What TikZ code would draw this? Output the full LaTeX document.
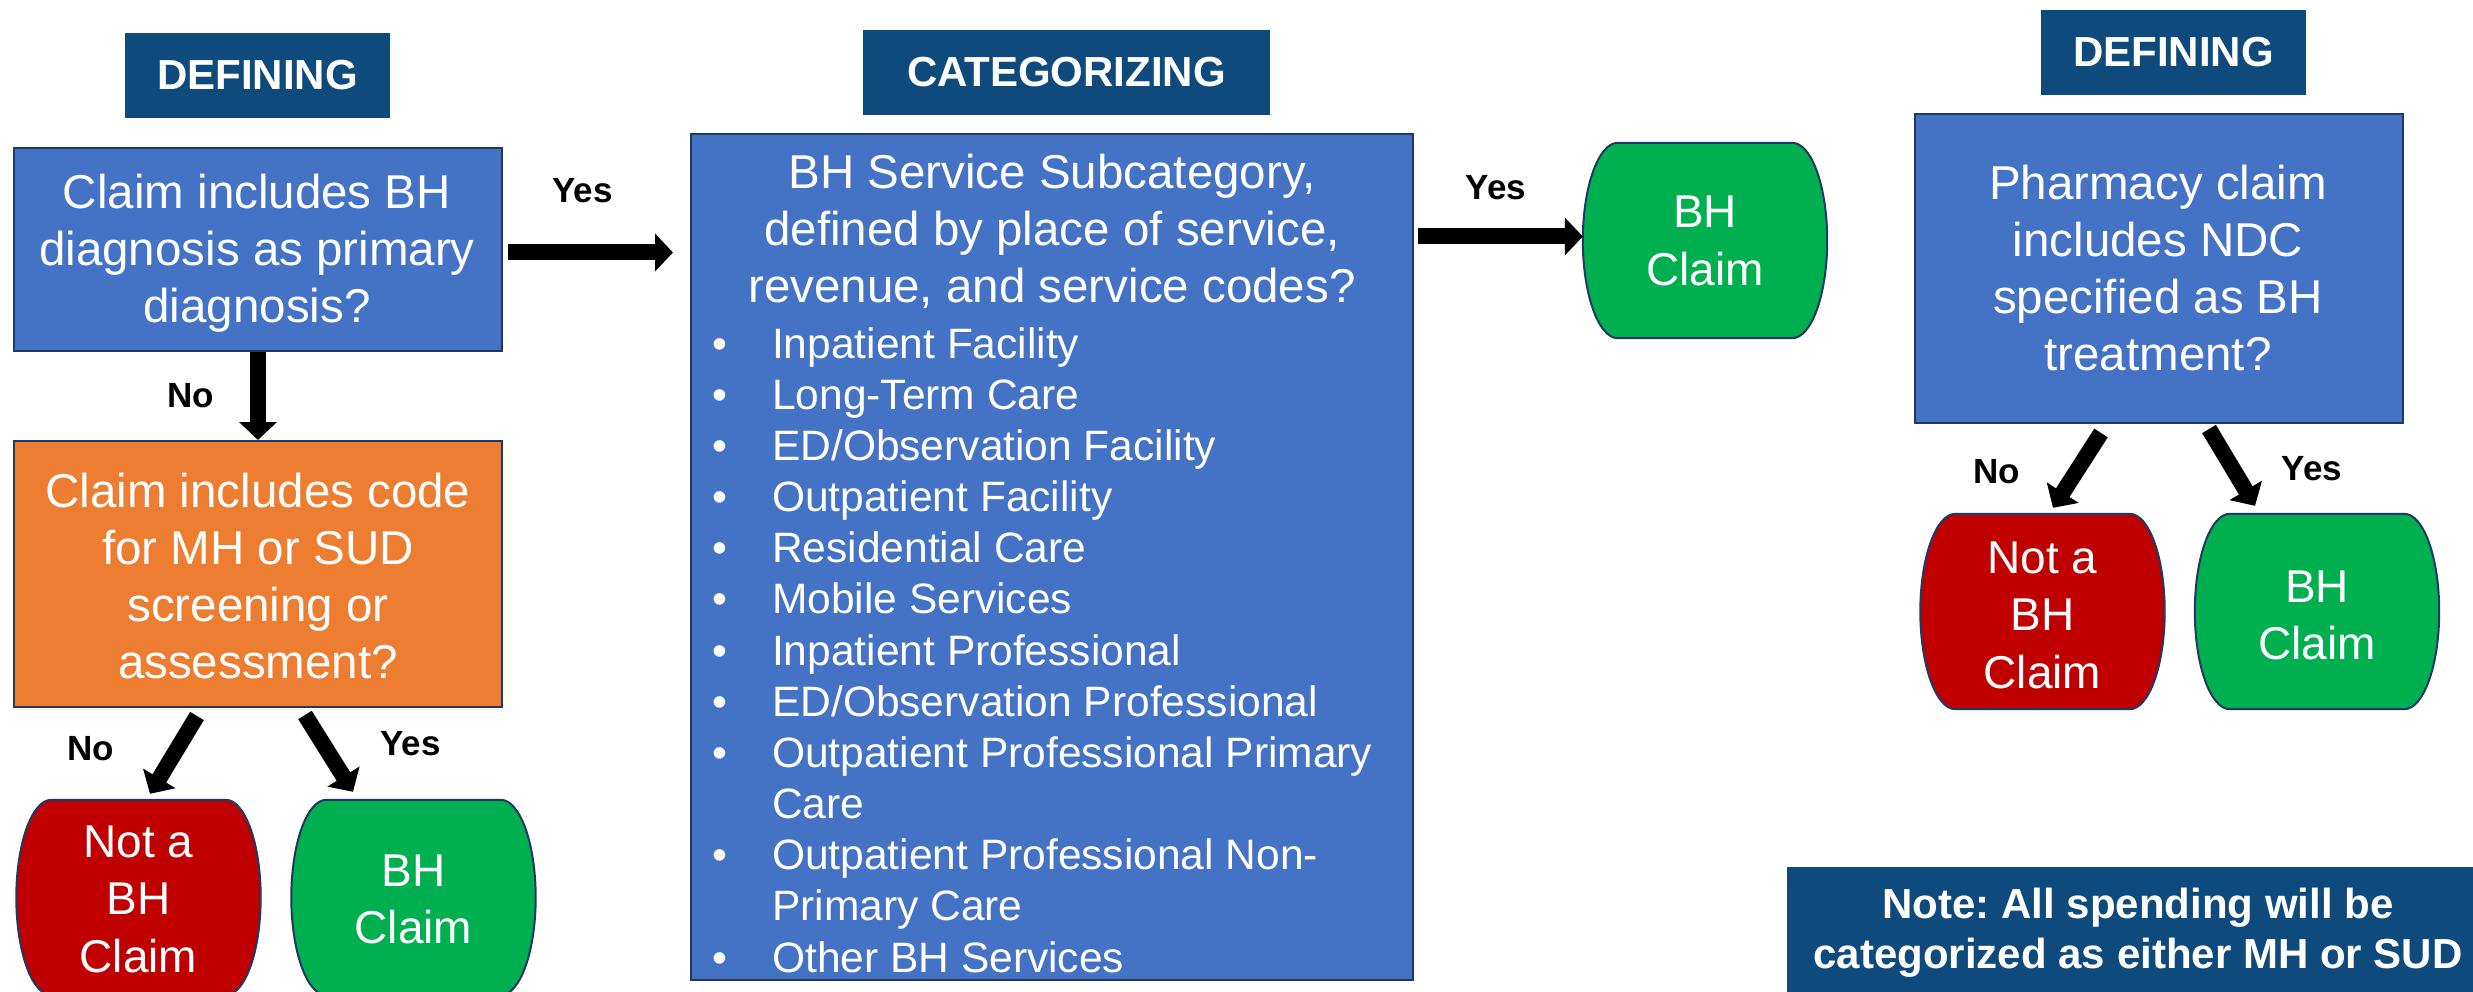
\documentclass[tikz,border=0pt]{standalone}
\usepackage{fontspec}
\setmainfont{Liberation Sans}
\usetikzlibrary{arrows.meta}
\frenchspacing
\definecolor{hdr}{HTML}{0E4A7C}
\definecolor{bfill}{HTML}{4472C4}
\definecolor{edge}{HTML}{1F3864}
\definecolor{ofill}{HTML}{ED7D31}
\definecolor{rfill}{HTML}{C00000}
\definecolor{gfill}{HTML}{00B050}
\newcommand\mylines[1]{\begin{tabular}[t]{@{}c@{}}#1\end{tabular}}
\newcommand\mytermshape[2]{%
 \draw[termline,fill=#2] ([xshift=35pt]#1.north west) -- ([xshift=-35pt]#1.north east)
  .. controls ([xshift=-15.7pt]#1.north east) and ([yshift=53.8pt]#1.east) .. (#1.east)
  .. controls ([yshift=-53.8pt]#1.east) and ([xshift=-15.7pt]#1.south east) .. ([xshift=-35pt]#1.south east)
  -- ([xshift=35pt]#1.south west)
  .. controls ([xshift=15.7pt]#1.south west) and ([yshift=-53.8pt]#1.west) .. (#1.west)
  .. controls ([yshift=53.8pt]#1.west) and ([xshift=15.7pt]#1.north west) .. ([xshift=35pt]#1.north west) -- cycle;}
\begin{document}
\begin{tikzpicture}[x=1pt,y=-1pt,
  hdrbox/.style={fill=hdr, text=white, font=\fontsize{42}{50}\selectfont\bfseries, inner sep=0pt, minimum height=85pt},
  qbox/.style={draw=edge, line width=2pt, inner sep=0pt},
  termbox/.style={minimum width=244pt, minimum height=195pt, inner sep=0pt},
  termline/.style={draw=edge, line width=2pt},
  qtext/.style={text=white, font=\fontsize{47.5}{57}\selectfont, inner sep=0pt, anchor=base},
  ttext/.style={text=white, font=\fontsize{46}{57.5}\selectfont, inner sep=0pt, anchor=base},
  lbl/.style={font=\fontsize{35}{40}\selectfont\bfseries, inner sep=0pt, anchor=base},
  blockarrow/.style={draw=black, line width=16pt, -{Triangle[length=18pt,width=37pt]}},
]
\useasboundingbox (0,0) rectangle (2473,992);
\fill[white] (0,0) rectangle (2473,992);

% headers
\node[hdrbox, minimum width=265pt] (def1) at (257.5,75.5) {DEFINING};
\node[hdrbox, minimum width=407pt] (cat) at (1066.5,72.5) {CATEGORIZING};
\node[hdrbox, minimum width=265pt] (def2) at (2173.5,52.5) {DEFINING};

% question boxes
\node[qbox, fill=bfill, minimum width=488pt, minimum height=203pt] (q1) at (258,249.5) {};
\node[qbox, fill=ofill, minimum width=488pt, minimum height=266pt] (q2) at (258,574) {};
\node[qbox, fill=bfill, minimum width=722pt, minimum height=846pt] (cbox) at (1052,557) {};
\node[qbox, fill=bfill, minimum width=488pt, minimum height=309pt] (pbox) at (2159,268.5) {};

% note box
\node[fill=hdr, minimum width=700pt, minimum height=140pt, anchor=north west, inner sep=0pt] (note) at (1787,867) {};

% terminals
\node[termbox] (tA) at (138.5,897.5) {};
\node[termbox] (tB) at (413.5,897.5) {};
\node[termbox] (tC) at (1705,240.5) {};
\node[termbox] (tD) at (2042.5,611.5) {};
\node[termbox] (tE) at (2317,611.5) {};
\mytermshape{tA}{rfill}
\mytermshape{tB}{gfill}
\mytermshape{tC}{gfill}
\mytermshape{tD}{rfill}
\mytermshape{tE}{gfill}

% texts
\node[qtext] (q1t) at (257,209) {\mylines{Claim includes BH\\diagnosis as primary\\diagnosis?}};
\node[qtext] (q2t) at (258,507) {\mylines{Claim includes code\\for MH or SUD\\screening or\\assessment?}};
\node[qtext] (pt) at (2158,200) {\mylines{Pharmacy claim\\includes NDC\\specified as BH\\treatment?}};
\node[qtext] (ct) at (1052,189) {\mylines{BH Service Subcategory,\\defined by place of service,\\revenue, and service codes?}};
\node[anchor=base west, inner sep=0pt, text=white, font=\fontsize{42.5}{51.17}\selectfont] (blist) at (712,358)
 {\begin{tabular}[t]{@{}l@{}l@{}}
 \makebox[60pt][l]{•} & Inpatient Facility\\
 \makebox[60pt][l]{•} & Long-Term Care\\
 \makebox[60pt][l]{•} & ED/Observation Facility\\
 \makebox[60pt][l]{•} & Outpatient Facility\\
 \makebox[60pt][l]{•} & Residential Care\\
 \makebox[60pt][l]{•} & Mobile Services\\
 \makebox[60pt][l]{•} & Inpatient Professional\\
 \makebox[60pt][l]{•} & ED/Observation Professional\\
 \makebox[60pt][l]{•} & Outpatient Professional Primary\\
 & Care\\
 \makebox[60pt][l]{•} & Outpatient Professional Non-\\
 & Primary Care\\
 \makebox[60pt][l]{•} & Other BH Services
 \end{tabular}};

\node[ttext] (tAt) at (138.5,857) {\mylines{Not a\\BH\\Claim}};
\node[ttext] (tBt) at (413.5,886) {\mylines{BH\\Claim}};
\node[ttext] (tCt) at (1705,228) {\mylines{BH\\Claim}};
\node[ttext] (tDt) at (2042.5,573) {\mylines{Not a\\BH\\Claim}};
\node[ttext] (tEt) at (2317,602) {\mylines{BH\\Claim}};

\node[anchor=base, inner sep=0pt, text=white, font=\fontsize{42}{50}\selectfont\bfseries] (notet) at (2138,918)
 {\mylines{Note: All spending will be\\categorized as either MH or SUD}};

% arrows
\draw[blockarrow, shorten <=5pt, shorten >=17pt] ([yshift=-3pt]q1.east) -- ([yshift=-3pt]q1.east -| cbox.west);
\draw[blockarrow] (q1.south) -- (q2.north);
\draw[blockarrow, shorten <=4pt] (cbox.east |- 0,236.5) -- (tC.west |- 0,236.5);
\coordinate (a4s) at ([xshift=-61pt,yshift=-8pt]q2.south);
\coordinate (a4e) at ([xshift=11.5pt,yshift=6pt]tA.north);
\coordinate (a5s) at ([xshift=47pt,yshift=-7pt]q2.south);
\coordinate (a5e) at ([xshift=-60.5pt,yshift=8pt]tB.north);
\coordinate (a6s) at ([xshift=-58pt,yshift=-9pt]pbox.south);
\coordinate (a6e) at ([xshift=10.5pt,yshift=6pt]tD.north);
\coordinate (a7s) at ([xshift=50pt,yshift=-5pt]pbox.south);
\coordinate (a7e) at ([xshift=-62pt,yshift=8pt]tE.north);
\draw[blockarrow] (a4s) -- (a4e);
\draw[blockarrow] (a5s) -- (a5e);
\draw[blockarrow] (a6s) -- (a6e);
\draw[blockarrow] (a7s) -- (a7e);

% labels
\node[lbl] (l1) at (582.5,203) {Yes};
\node[lbl] (l2) at (190.5,407) {No};
\node[lbl] (l3) at (1496,200) {Yes};
\node[lbl] (l4) at (90.5,760) {No};
\node[lbl] (l5) at (410.5,755) {Yes};
\node[lbl] (l6) at (1997,483) {No};
\node[lbl] (l7) at (2312,480) {Yes};
\end{tikzpicture}
\end{document}
